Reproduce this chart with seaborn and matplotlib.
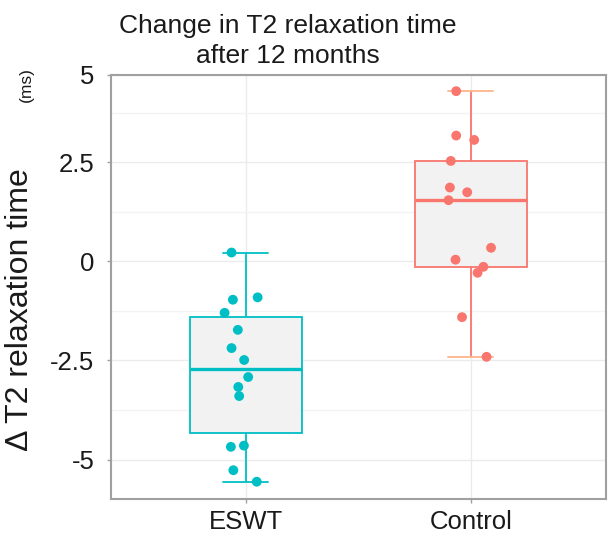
import numpy as np
import pandas as pd
import matplotlib
matplotlib.use("Agg")
import matplotlib.pyplot as plt
from matplotlib.ticker import MultipleLocator
import seaborn as sns

# values
groups = ["ESWT", "Control"]
eswt_values = [0.22, -0.97, -0.91, -1.30, -1.73, -2.19, -2.49, -2.92, -3.17, -3.40,
               -4.68, -4.65, -5.27, -5.56]
eswt_jitter = [-0.064, -0.058, 0.052, -0.095, -0.036, -0.064, -0.008, 0.010, -0.034,
               -0.030, -0.067, -0.009, -0.056, 0.048]
control_values = [4.29, 3.17, 3.06, 2.53, 1.86, 1.74, 1.54, 0.34, 0.04, -0.14, -0.29,
                  -1.41, -2.41]
control_jitter = [-0.065, -0.065, 0.015, -0.089, -0.093, -0.016, -0.099, 0.090, -0.068,
                  0.056, 0.030, -0.039, 0.070]
ytick_values = [-5, -2.5, 0, 2.5, 4.7]
ytick_labels = ["-5", "-2.5", "0", "2.5", "5"]

colors = {"ESWT": "#00BFC4", "Control": "#F8766D"}
cap_colors = {"ESWT": "#00BFC4", "Control": "#FDB58A"}

df = pd.DataFrame({
    "group": ["ESWT"] * len(eswt_values) + ["Control"] * len(control_values),
    "value": eswt_values + control_values,
    "jitter": eswt_jitter + control_jitter,
})
df["xpos"] = df["group"].map({g: i for i, g in enumerate(groups)}) + df["jitter"]

sns.set_theme(style="white")
plt.rcParams["font.family"] = ["Liberation Sans", "DejaVu Sans"]

fig = plt.figure(figsize=(6.1, 5.35), dpi=100)
ax = fig.add_axes([0.182, 0.067, 0.811, 0.793])

for g in groups:
    sns.boxplot(
        data=df[df["group"] == g], x="group", y="value", order=groups,
        width=0.5, color="#F2F2F2", linecolor=colors[g], saturation=1,
        linewidth=1.3, showfliers=False, capwidths=0.2,
        medianprops=dict(linewidth=2.4, color=colors[g]),
        capprops=dict(color=cap_colors[g], linewidth=1.3),
        ax=ax, zorder=2,
    )

sns.scatterplot(
    data=df, x="xpos", y="value", hue="group", palette=colors,
    s=50, linewidth=0, legend=False, ax=ax, zorder=3,
)

ax.set_xlim(-0.6, 1.6)
ax.set_ylim(-6.0, 4.7)
ax.set_xticks(range(len(groups)))
ax.set_xticklabels(groups)
ax.set_yticks(ytick_values)
ax.set_yticklabels(ytick_labels)
ax.yaxis.set_minor_locator(MultipleLocator(1.25))
ax.set_xlabel("")
ax.set_ylabel("")

ax.set_axisbelow(True)
ax.grid(which="major", color="#EBEBEB", linewidth=1.0)
ax.grid(which="minor", axis="y", color="#F3F3F3", linewidth=1.0)

for side in ax.spines.values():
    side.set_color("#A0A0A0")
    side.set_linewidth(1.5)

ax.tick_params(axis="both", which="major", length=3, width=1, color="#A0A0A0",
               labelsize=18.5, labelcolor="#1A1A1A", bottom=True, left=True)
ax.tick_params(axis="y", pad=9)
ax.tick_params(axis="x", pad=5)
ax.tick_params(which="minor", length=0)

fig.text(0.472, 0.938, "Change in T2 relaxation time", ha="center", va="baseline",
         fontsize=19, color="#1A1A1A")
fig.text(0.472, 0.882, "after 12 months", ha="center", va="baseline",
         fontsize=19, color="#1A1A1A")

fig.text(20 / 610, 1 - 310 / 535, "\u0394 T2 relaxation time", rotation=90,
         ha="center", va="center", fontsize=23, color="#1A1A1A")
fig.text(26 / 610, 1 - 85 / 535, "(ms)", rotation=90,
         ha="center", va="center", fontsize=12.5, color="#1A1A1A")

fig.savefig("out.png", dpi=100)
